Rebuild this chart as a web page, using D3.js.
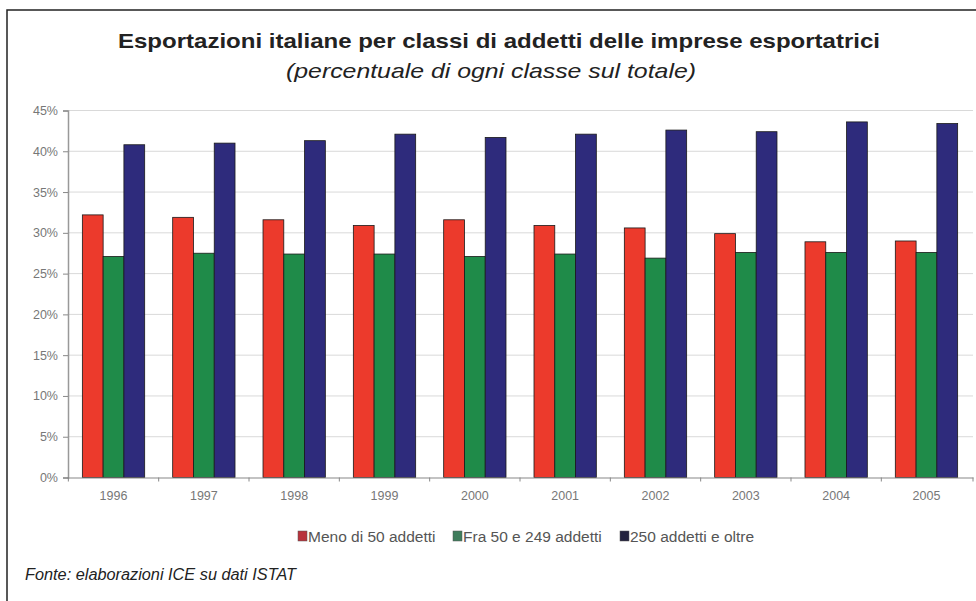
<!DOCTYPE html>
<html><head><meta charset="utf-8">
<script src="https://cdn.jsdelivr.net/npm/d3@7"></script>
<style>body{margin:0;background:#fff}svg{display:block}</style>
</head><body>
<svg id="c" width="976" height="601"></svg>
<script>
const years = ["1996","1997","1998","1999","2000","2001","2002","2003","2004","2005"];
const seriesNames = ["Meno di 50 addetti","Fra 50 e 249 addetti","250 addetti e oltre"];
const meno50 = [32.2,31.9,31.6,30.9,31.6,30.9,30.6,29.9,28.9,29.0];
const fra50_249 = [27.1,27.5,27.4,27.4,27.1,27.4,26.9,27.6,27.6,27.6];
const oltre250 = [40.8,41.0,41.3,42.1,41.7,42.1,42.6,42.4,43.6,43.4];
const yTicks = [0,5,10,15,20,25,30,35,40,45];
const colors = ["#ec3a2c","#1f8b49","#2e2b7c"];
const legendColors = ["#b8333c","#3f7d5c","#23223e"];

(function(){
const svg = d3.select("#c");
const W = 976, H = 601;
const FF = "Liberation Sans, Arial, sans-serif";
svg.append("rect").attr("x",7).attr("y",10).attr("width",W+10).attr("height",H+10)
  .attr("fill","#fff").attr("stroke","#222").attr("stroke-width",1.5);

svg.append("text").attr("x",499).attr("y",48).attr("text-anchor","middle")
  .attr("font-family",FF).attr("font-weight","bold")
  .attr("font-size",21).attr("fill","#222")
  .attr("textLength",762).attr("lengthAdjust","spacingAndGlyphs")
  .text("Esportazioni italiane per classi di addetti delle imprese esportatrici");
svg.append("text").attr("x",491).attr("y",78).attr("text-anchor","middle")
  .attr("font-family",FF).attr("font-style","italic")
  .attr("font-size",21).attr("fill","#222")
  .attr("textLength",410).attr("lengthAdjust","spacingAndGlyphs")
  .text("(percentuale di ogni classe sul totale)");

const pL = 68, pR = 973, pT = 110.5, pB = 477.5;
const y = d3.scaleLinear().domain([0,45]).range([pB, pT]);
const x0 = d3.scaleBand().domain(years).range([pL-1, pR]).paddingInner(0.31).paddingOuter(0.17);
const x1 = d3.scaleBand().domain(d3.range(3)).range([0, x0.bandwidth()]);

svg.append("g").selectAll("line").data(yTicks.filter(d=>d>0)).join("line")
  .attr("x1",pL).attr("x2",pR).attr("y1",d=>y(d)).attr("y2",d=>y(d))
  .attr("stroke","#d9d9d9").attr("stroke-width",1);

const data = years.map((yr,i)=>({yr, vals:[meno50[i],fra50_249[i],oltre250[i]]}));
const g = svg.append("g").selectAll("g").data(data).join("g")
  .attr("transform",d=>`translate(${x0(d.yr)},0)`);
g.selectAll("rect").data(d=>d.vals.map((v,k)=>({v,k}))).join("rect")
  .attr("x",d=>x1(d.k)).attr("width",x1.bandwidth())
  .attr("y",d=>y(d.v)).attr("height",d=>pB-y(d.v))
  .attr("fill",d=>colors[d.k]).attr("stroke","#1a1a1a").attr("stroke-width",0.8);

const yAxis = svg.append("g").attr("transform",`translate(${pL},0)`)
  .call(d3.axisLeft(y).tickValues(yTicks).tickFormat(d=>d+"%").tickSize(5).tickPadding(5));
yAxis.select(".domain").attr("stroke","#999").attr("stroke-width",1.5);
yAxis.selectAll(".tick line").attr("stroke","#888");
yAxis.selectAll("text").attr("font-family",FF).attr("font-size",12.5).attr("fill","#777");

const xAxis = svg.append("g").attr("transform",`translate(0,${pB})`)
  .call(d3.axisBottom(x0).tickSize(0).tickPadding(14));
xAxis.select(".domain").attr("stroke","#888").attr("stroke-width",1.2);
xAxis.selectAll("text").attr("font-family",FF).attr("font-size",12.5).attr("fill","#777");
const bounds = years.map(yr=>x0(yr)-x0.step()*x0.paddingInner()/2).concat([pR]);
xAxis.append("g").selectAll("line").data(bounds).join("line")
  .attr("x1",d=>d).attr("x2",d=>d).attr("y1",0).attr("y2",4).attr("stroke","#888");

const legX = [298, 453, 620];
const lg = svg.append("g").selectAll("g").data(seriesNames).join("g")
  .attr("transform",(d,i)=>`translate(${legX[i]},531)`);
lg.append("rect").attr("width",9).attr("height",10).attr("fill",(d,i)=>legendColors[i]).attr("stroke","#555").attr("stroke-width",0.5);
lg.append("text").attr("x",10).attr("y",10.5).attr("font-family",FF)
  .attr("font-size",15.5).attr("fill","#555").text(d=>d);

svg.append("text").attr("x",25).attr("y",580).attr("font-family",FF)
  .attr("font-style","italic").attr("font-size",16).attr("fill","#222")
  .attr("textLength",271).attr("lengthAdjust","spacingAndGlyphs")
  .text("Fonte: elaborazioni ICE su dati ISTAT");
})();
</script>
</body></html>
